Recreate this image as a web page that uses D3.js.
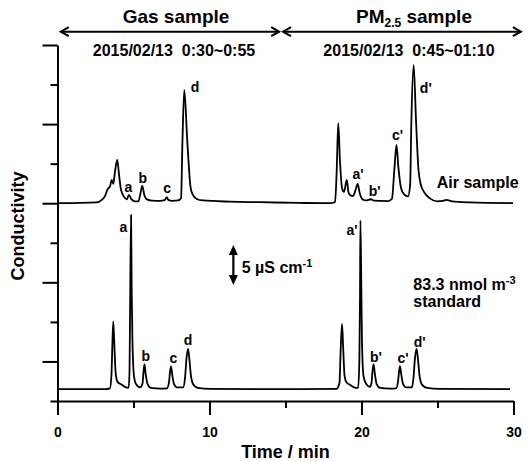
<!DOCTYPE html>
<html>
<head>
<meta charset="utf-8">
<script src="https://cdn.jsdelivr.net/npm/d3@7"></script>
<style>
  html, body { margin: 0; padding: 0; background: #fff; }
  svg { display: block; }
  text { font-family: "Liberation Sans", Arial, Helvetica, sans-serif; font-weight: bold; fill: #000; }
</style>
</head>
<body>
<svg id="chart" width="527" height="461"></svg>
<script>
// ---------------- DATA ----------------
// Air sample chromatogram: time (min) and conductivity above its baseline (µS cm-1)
const airTime = [0, 2.58, 2.91, 3.13, 3.30, 3.38, 3.45, 3.57, 3.67, 3.78, 3.93, 4.05, 4.18, 4.38, 4.55, 4.70, 4.87, 5.10, 5.32, 5.45, 5.58, 5.71, 5.89, 6.22, 6.74, 7.07, 7.18, 7.30, 7.53, 7.93, 8.13, 8.22, 8.34, 8.54, 8.76, 8.91, 9.16, 9.57, 11.35, 13.32, 15.95, 17.93,
  18.26, 18.37, 18.47, 18.58, 18.72, 18.85, 19.03, 19.14, 19.24, 19.44, 19.61, 19.75, 19.88, 20.08, 20.30, 20.61, 20.83, 21.22, 21.74, 22.00, 22.17, 22.30, 22.43, 22.60, 22.80, 23.06, 23.20, 23.28, 23.43, 23.59, 23.75, 23.91, 24.11, 24.50, 24.97, 25.36, 25.60, 25.95, 27.14, 29.97];
const airSignal = [0, 0.10, 0.42, 0.92, 1.80, 1.95, 2.10, 2.95, 2.44, 3.96, 5.47, 3.58, 1.68, 0.80, 0.48, 1.05, 0.48, 0.23, 0.23, 1.18, 2.19, 1.05, 0.48, 0.32, 0.29, 0.42, 0.76, 0.42, 0.29, 0.35, 0.67, 7.79, 14.32, 7.79, 1.93, 1.05, 0.54, 0.35, 0.20, 0.13, 0.04, 0,
  0.16, 4.20, 10.11, 5.47, 1.93, 1.43, 2.95, 1.43, 1.05, 0.92, 1.68, 2.44, 1.30, 0.48, 0.35, 0.50, 0.32, 0.29, 0.27, 0.54, 4.46, 7.37, 4.46, 1.93, 1.11, 0.86, 2.31, 10.31, 17.48, 10.31, 4.20, 2.31, 1.43, 0.61, 0.23, 0.29, 0.42, 0.23, 0.10, 0];

// 83.3 nmol m-3 standard chromatogram
const stdTime = [0, 3.13, 3.45, 3.55, 3.61, 3.67, 3.74, 3.82, 3.95, 4.18, 4.44, 4.68, 4.74, 4.78, 4.84, 4.88, 4.93, 5.03, 5.16, 5.43, 5.59, 5.66, 5.72, 5.80, 5.92, 6.15, 6.74, 7.20, 7.34, 7.40, 7.47, 7.55, 7.66, 7.86, 8.26, 8.39, 8.49, 8.59, 8.68, 8.78, 8.95, 9.24, 10.03, 15.95,
  18.37, 18.55, 18.63, 18.72, 18.80, 18.88, 19.01, 19.24, 19.51, 19.78, 19.86, 19.90, 19.93, 19.99, 20.03, 20.13, 20.30, 20.56, 20.66, 20.72, 20.79, 20.88, 20.99, 21.22, 21.88, 22.27, 22.40, 22.47, 22.53, 22.62, 22.73, 22.93, 23.32, 23.42, 23.52, 23.62, 23.72, 23.82, 23.99, 24.31, 25.16, 29.77];
const stdSignal = [0, 0, 0.10, 1.81, 5.60, 8.55, 5.60, 2.19, 0.92, 0.61, 0.29, 0.16, 2.44, 11.29, 22.03, 12.55, 6.23, 1.68, 0.67, 0.23, 0.67, 2.19, 3.16, 1.93, 0.67, 0.16, 0.06, 0.10, 0.92, 2.19, 2.88, 1.81, 0.67, 0.23, 0.23, 1.43, 3.96, 5.09, 3.70, 1.68, 0.54, 0.16, 0.04, 0,
  0.04, 0.80, 4.97, 8.25, 4.97, 1.81, 0.86, 0.54, 0.23, 0.16, 3.70, 11.29, 21.34, 12.55, 6.23, 1.68, 0.67, 0.29, 0.80, 2.19, 3.16, 1.93, 0.67, 0.16, 0.06, 0.10, 0.92, 2.19, 2.91, 1.81, 0.67, 0.23, 0.23, 1.43, 3.96, 5.09, 3.70, 1.68, 0.54, 0.16, 0.04, 0];

// Peak labels (time, conductivity on the axis scale)
const airLabels = [
  {text: "a", t: 4.66, v: 26.46}, {text: "b", t: 5.61, v: 27.59}, {text: "c", t: 7.22, v: 26.23}, {text: "d", t: 9.05, v: 39.1},
  {text: "a'", t: 19.77, v: 28.02}, {text: "b'", t: 20.87, v: 25.91}, {text: "c'", t: 22.37, v: 32.99}, {text: "d'", t: 24.23, v: 38.9}
];
const stdLabels = [
  {text: "a", t: 4.33, v: 21.32}, {text: "b", t: 5.81, v: 5.09}, {text: "c", t: 7.62, v: 4.77}, {text: "d", t: 8.59, v: 7.08},
  {text: "a'", t: 19.38, v: 20.98}, {text: "b'", t: 20.95, v: 4.97}, {text: "c'", t: 22.73, v: 4.77}, {text: "d'", t: 23.83, v: 6.86}
];

const xMajorTicks = [0, 10, 20, 30];
const xMinorTicks = [5, 15, 25];
const yLongTicks = [5, 15, 25, 35, 45];
const yShortTicks = [0, 10, 20, 30, 40];

const airOffset = 25;   // vertical offset of the air-sample trace
const stdOffset = 1.5;  // vertical offset of the standard trace

// ---------------- DRAWING ----------------
const svg = d3.select("#chart");
const x = d3.scaleLinear().domain([0, 30]).range([57.5, 513.5]);
const y = d3.scaleLinear().domain([0, 45]).range([401, 45]);

function styleAxis(g) {
  g.selectAll("path, line").attr("stroke", "#000").attr("stroke-width", 2);
}

// x axis
svg.append("g").attr("transform", "translate(0,401)")
  .call(d3.axisBottom(x).tickValues(xMajorTicks).tickSize(14).tickSizeOuter(0).tickFormat(d3.format("d")))
  .call(styleAxis)
  .call(g => g.selectAll("text").attr("y", 36).attr("dy", null).style("font-size", "14px").style("font-family", "'Liberation Sans', Arial, sans-serif").style("font-weight", "bold"));
svg.append("g").attr("transform", "translate(0,401)")
  .call(d3.axisBottom(x).tickValues(xMinorTicks).tickSize(7).tickSizeOuter(0).tickFormat(""))
  .call(styleAxis)
  .call(g => g.select(".domain").remove());

// y axis
svg.append("g").attr("transform", "translate(57.5,0)")
  .call(d3.axisLeft(y).tickValues(yLongTicks).tickSize(15).tickSizeOuter(0).tickFormat(""))
  .call(styleAxis);
svg.append("g").attr("transform", "translate(57.5,0)")
  .call(d3.axisLeft(y).tickValues(yShortTicks).tickSize(7).tickSizeOuter(0).tickFormat(""))
  .call(styleAxis)
  .call(g => g.select(".domain").remove());

// traces
const line = d3.line().curve(d3.curveMonotoneX);
svg.append("path")
  .attr("d", line(airTime.map((t, i) => [x(t), y(airSignal[i] + airOffset)])))
  .attr("fill", "none").attr("stroke", "#000").attr("stroke-width", 1.8).attr("stroke-linejoin", "round");
svg.append("path")
  .attr("d", line(stdTime.map((t, i) => [x(t), y(stdSignal[i] + stdOffset)])))
  .attr("fill", "none").attr("stroke", "#000").attr("stroke-width", 1.8).attr("stroke-linejoin", "round");

// peak labels
svg.append("g").selectAll("text").data(airLabels.concat(stdLabels)).join("text")
  .attr("x", d => x(d.t)).attr("y", d => y(d.v))
  .attr("text-anchor", "middle").style("font-size", "14px")
  .text(d => d.text);

// trace annotations
svg.append("text").attr("x", x(24.95)).attr("y", y(26.88)).style("font-size", "16px").text("Air sample");
svg.append("text").attr("x", x(23.41)).attr("y", y(14.03)).style("font-size", "16px")
  .call(t => { t.append("tspan").text("83.3 nmol m"); t.append("tspan").attr("dy", -6).style("font-size", "11px").text("-3"); });
svg.append("text").attr("x", x(23.41)).attr("y", y(11.92)).style("font-size", "16px").text("standard");

// 5 µS cm-1 scale bar
const sbX = x(11.57), sbTop = y(19.72), sbBot = y(14.66);
svg.append("line").attr("x1", sbX).attr("x2", sbX).attr("y1", sbTop + 6).attr("y2", sbBot - 6)
  .attr("stroke", "#000").attr("stroke-width", 2.2);
svg.append("path").attr("d", `M${sbX},${sbTop} L${sbX - 4.5},${sbTop + 10} L${sbX + 4.5},${sbTop + 10} Z`).attr("fill", "#000");
svg.append("path").attr("d", `M${sbX},${sbBot} L${sbX - 4.5},${sbBot - 10} L${sbX + 4.5},${sbBot - 10} Z`).attr("fill", "#000");
svg.append("text").attr("x", x(12.12)).attr("y", y(16.14)).style("font-size", "16px")
  .call(t => { t.append("tspan").text("5 µS cm"); t.append("tspan").attr("dy", -6).style("font-size", "11px").text("-1"); });

// header arrows
function hArrow(x1, x2, yy) {
  svg.append("line").attr("x1", x1 + 1).attr("x2", x2 - 1).attr("y1", yy).attr("y2", yy).attr("stroke", "#000").attr("stroke-width", 2);
  svg.append("path").attr("d", `M${x1 + 9},${yy - 4.5} L${x1 + 1},${yy} L${x1 + 9},${yy + 4.5}`)
    .attr("fill", "none").attr("stroke", "#000").attr("stroke-width", 2);
  svg.append("path").attr("d", `M${x2 - 9},${yy - 4.5} L${x2 - 1},${yy} L${x2 - 9},${yy + 4.5}`)
    .attr("fill", "none").attr("stroke", "#000").attr("stroke-width", 2);
}
hArrow(x(0.15), x(14.65), 31.7);
hArrow(x(14.77), x(30.55), 31.7);

svg.append("text").attr("x", 176).attr("y", 23).attr("text-anchor", "middle").style("font-size", "19px").text("Gas sample");
svg.append("text").attr("x", 414).attr("y", 23).attr("text-anchor", "middle").style("font-size", "19px")
  .call(t => {
    t.append("tspan").text("PM");
    t.append("tspan").attr("dy", 4).style("font-size", "12px").text("2.5");
    t.append("tspan").attr("dy", -4).text(" sample");
  });
svg.append("text").attr("x", 174).attr("y", 56).attr("text-anchor", "middle").style("font-size", "16px").attr("xml:space", "preserve").text("2015/02/13  0:30~0:55");
svg.append("text").attr("x", 409).attr("y", 56).attr("text-anchor", "middle").style("font-size", "16px").attr("xml:space", "preserve").text("2015/02/13  0:45~01:10");

// axis titles
svg.append("text").attr("x", 285.5).attr("y", 458).attr("text-anchor", "middle").style("font-size", "18px").text("Time / min");
svg.append("text").attr("transform", "translate(24,226) rotate(-90)").attr("text-anchor", "middle").style("font-size", "18px").text("Conductivity");
</script>
</body>
</html>
